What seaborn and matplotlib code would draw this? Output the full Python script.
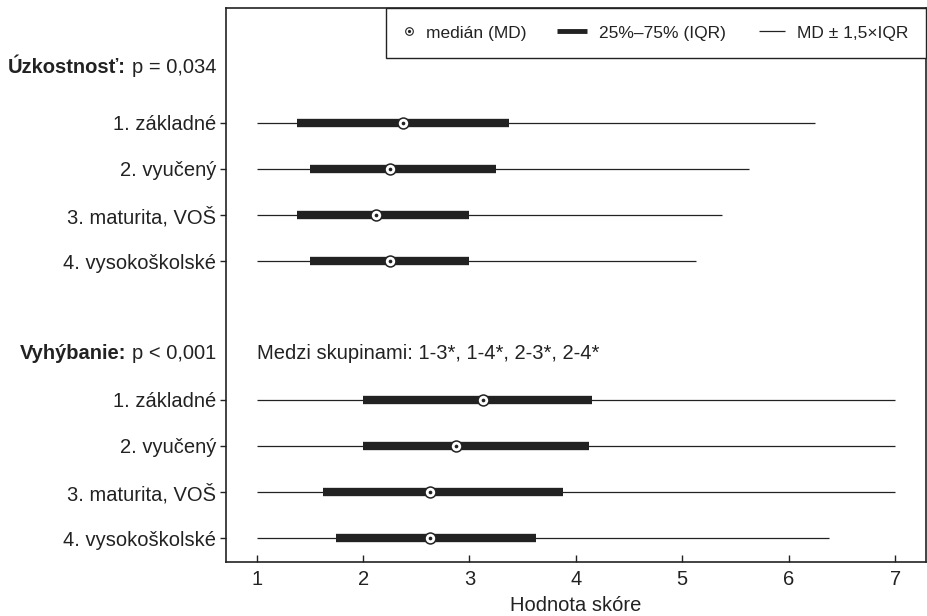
import matplotlib
matplotlib.use("Agg")
import matplotlib.pyplot as plt
import seaborn as sns
import pandas as pd
from matplotlib.lines import Line2D
from matplotlib.legend_handler import HandlerBase

# ---- data ----
groups = ["Úzkostnosť", "Vyhýbanie"]
group_p = ["p = 0,034", "p < 0,001"]
categories = ["1. základné", "2. vyučený", "3. maturita, VOŠ", "4. vysokoškolské"]

uzk_low = [1.0, 1.0, 1.0, 1.0]
uzk_q1 = [1.375, 1.5, 1.375, 1.5]
uzk_med = [2.375, 2.25, 2.125, 2.25]
uzk_q3 = [3.375, 3.25, 3.0, 3.0]
uzk_high = [6.25, 5.625, 5.375, 5.125]

vyh_low = [1.0, 1.0, 1.0, 1.0]
vyh_q1 = [2.0, 2.0, 1.625, 1.75]
vyh_med = [3.125, 2.875, 2.625, 2.625]
vyh_q3 = [4.15, 4.125, 3.875, 3.625]
vyh_high = [7.0, 7.0, 7.0, 6.375]

note_text = "Medzi skupinami: 1-3*, 1-4*, 2-3*, 2-4*"
xticks = [1, 2, 3, 4, 5, 6, 7]
xlabel = "Hodnota skóre"
legend_labels = ["medián (MD)", "25%\u201375% (IQR)", "MD \u00b1 1,5\u00d7IQR"]

# ---- build table ----
rows = []
series = [(uzk_low, uzk_q1, uzk_med, uzk_q3, uzk_high),
          (vyh_low, vyh_q1, vyh_med, vyh_q3, vyh_high)]
for g, (lo, q1, md, q3, hi) in enumerate(series):
    for i, cat in enumerate(categories):
        rows.append(dict(group=groups[g], cat=cat, pos=g * 6 + i,
                         low=lo[i], q1=q1[i], med=md[i], q3=q3[i], high=hi[i]))
df = pd.DataFrame(rows)
header_pos = [-1.2, 5.0]

# ---- style ----
sns.set_theme(style="white")
plt.rcParams['font.family'] = ['Liberation Sans', 'DejaVu Sans']
dark = "#222222"
FS = 14.5

fig = plt.figure(figsize=(9.27, 6.16), dpi=100)
ax = fig.add_axes([226 / 927, 1 - 562 / 616, (926 - 226) / 927, (562 - 8) / 616])

ax.hlines(df["pos"], df["low"], df["high"], color=dark, lw=0.9, zorder=1)
ax.hlines(df["pos"], df["q1"], df["q3"], color=dark, lw=6, capstyle="butt", zorder=2)
sns.scatterplot(data=df, x="med", y="pos", marker="o", s=62, color="white",
                edgecolor=dark, linewidth=1.1, zorder=3, ax=ax, legend=False)
sns.scatterplot(data=df, x="med", y="pos", marker="o", s=7, color=dark,
                edgecolor=dark, linewidth=0, zorder=4, ax=ax, legend=False)

ax.set_xlim(0.712, 7.29)
ax.set_ylim(9.52, -2.49)
ax.set_xticks(xticks)
ax.set_xticklabels([str(t) for t in xticks])
ax.set_yticks(df["pos"])
ax.set_yticklabels(df["cat"])
ax.set_xlabel(xlabel, fontsize=FS, color=dark, labelpad=5)
ax.set_ylabel("")

ax.tick_params(axis="y", direction="out", length=4, width=1, pad=3,
               labelsize=FS, colors=dark, left=True)
ax.tick_params(axis="x", direction="in", length=5, width=1, pad=6,
               labelsize=FS, colors=dark, bottom=True)
for sp in ax.spines.values():
    sp.set_visible(True)
    sp.set_color(dark)
    sp.set_linewidth(1.2)

# group headers
for g in range(2):
    t = ax.text(-10 / 700, header_pos[g], group_p[g], transform=ax.get_yaxis_transform(),
                ha="right", va="center", fontsize=FS, color=dark)
    ax.annotate(groups[g] + ":", xy=(0, 0.5), xycoords=t, xytext=(-4, 0),
                textcoords="offset points", ha="right", va="center",
                fontsize=FS, fontweight="bold", color=dark)

ax.text(1.0, header_pos[1], note_text, ha="left", va="center", fontsize=FS, color=dark)


# legend with custom handlers
class MedianHandler(HandlerBase):
    def create_artists(self, legend, orig_handle, xdescent, ydescent, width, height,
                       fontsize, trans):
        x = width / 2 - xdescent
        y = height / 2 - ydescent
        c = Line2D([x], [y], marker="o", ls="none", markerfacecolor="white",
                   markeredgecolor=dark, markersize=5.5, markeredgewidth=0.8, transform=trans)
        d = Line2D([x], [y], marker="o", ls="none", markerfacecolor=dark,
                   markeredgecolor=dark, markersize=1.3, transform=trans)
        return [c, d]


class RightLineHandler(HandlerBase):
    def __init__(self, lw, length_pt):
        super().__init__()
        self.lw = lw
        self.length_pt = length_pt

    def create_artists(self, legend, orig_handle, xdescent, ydescent, width, height,
                       fontsize, trans):
        y = height / 2 - ydescent
        x1 = width - xdescent
        ln = Line2D([x1 - self.length_pt, x1], [y, y], color=dark, lw=self.lw,
                    solid_capstyle="butt", transform=trans)
        return [ln]


h_med = Line2D([0], [0], marker="o", ls="none")
h_iqr = Line2D([0], [0], color=dark, lw=3.5)
h_wh = Line2D([0], [0], color=dark, lw=0.9)
leg = ax.legend([h_med, h_iqr, h_wh], legend_labels, ncol=3,
                handler_map={h_med: MedianHandler(),
                             h_iqr: RightLineHandler(3.5, 21.5),
                             h_wh: RightLineHandler(0.9, 19.0)},
                loc="upper right", bbox_to_anchor=(1, 1), borderaxespad=0,
                frameon=True, fancybox=False, edgecolor=dark, framealpha=1,
                fontsize=12.5, handlelength=0.6, handleheight=0.7, columnspacing=2.85,
                borderpad=1.0, handletextpad=0.69)
leg.get_frame().set_linewidth(1.0)
for txt in leg.get_texts():
    txt.set_color(dark)

fig.savefig("out.png", dpi=100)
